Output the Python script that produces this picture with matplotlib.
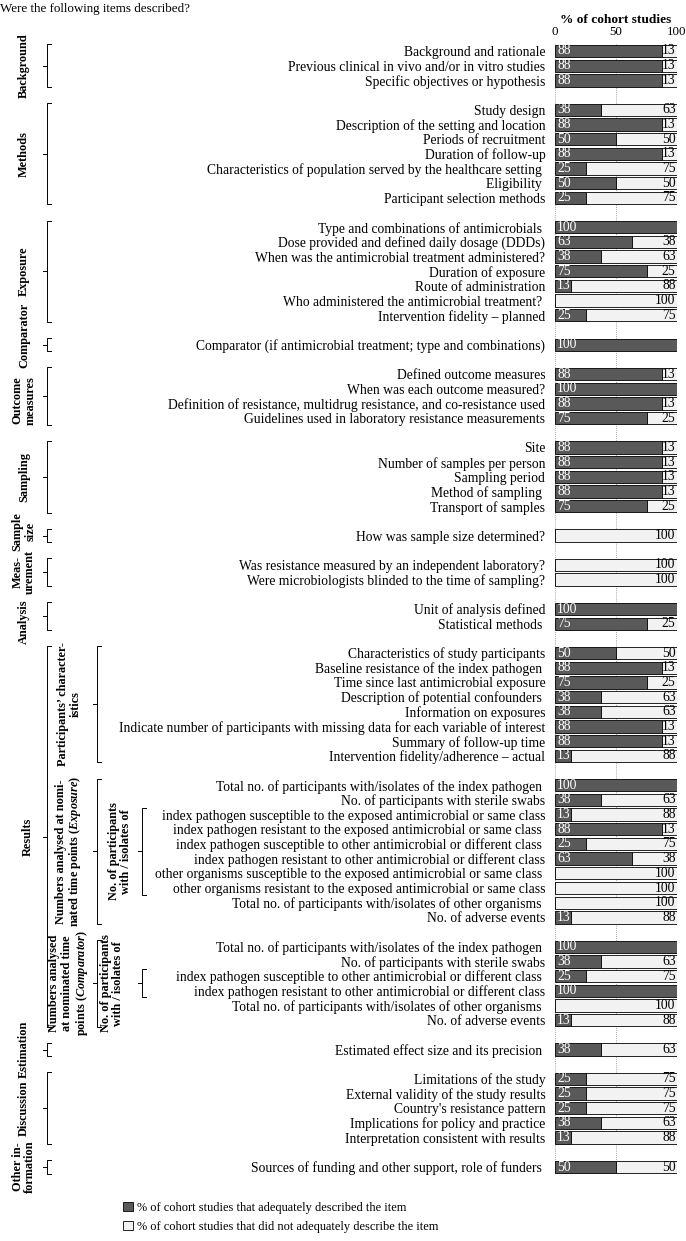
import numpy as np
import matplotlib.pyplot as plt
from matplotlib import transforms

plt.rcParams['font.family'] = ['Liberation Serif', 'DejaVu Serif']
plt.rcParams['mathtext.fontset'] = 'custom'
plt.rcParams['mathtext.rm'] = 'Liberation Serif:bold'
plt.rcParams['mathtext.it'] = 'Liberation Serif:italic:bold'
plt.rcParams['mathtext.bf'] = 'Liberation Serif:bold'

# ---- data -------------------------------------------------------------
items = [
    # Background
    "Background and rationale",
    "Previous clinical in vivo and/or in vitro studies",
    "Specific objectives or hypothesis",
    # Methods
    "Study design",
    "Description of the setting and location",
    "Periods of recruitment",
    "Duration of follow-up",
    "Characteristics of population served by the healthcare setting ",
    "Eligibility ",
    "Participant selection methods",
    # Exposure
    "Type and combinations of antimicrobials ",
    "Dose provided and defined daily dosage (DDDs)",
    "When was the antimicrobial treatment administered?",
    "Duration of exposure",
    "Route of administration",
    "Who administered the antimicrobial treatment? ",
    "Intervention fidelity \u2013 planned",
    # Comparator
    "Comparator (if antimicrobial treatment; type and combinations)",
    # Outcome measures
    "Defined outcome measures",
    "When was each outcome measured?",
    "Definition of resistance, multidrug resistance, and co-resistance used",
    "Guidelines used in laboratory resistance measurements",
    # Sampling
    "Site",
    "Number of samples per person",
    "Sampling period",
    "Method of sampling ",
    "Transport of samples",
    # Sample size
    "How was sample size determined?",
    # Measurement
    "Was resistance measured by an independent laboratory?",
    "Were microbiologists blinded to the time of sampling?",
    # Analysis
    "Unit of analysis defined",
    "Statistical methods ",
    # Participants' characteristics
    "Characteristics of study participants",
    "Baseline resistance of the index pathogen ",
    "Time since last antimicrobial exposure",
    "Description of potential confounders ",
    "Information on exposures",
    "Indicate number of participants with missing data for each variable of interest",
    "Summary of follow-up time",
    "Intervention fidelity/adherence \u2013 actual",
    # Numbers analysed (Exposure)
    "Total no. of participants with/isolates of the index pathogen ",
    "No. of participants with sterile swabs",
    "index pathogen susceptible to the exposed antimicrobial or same class",
    "index pathogen resistant to the exposed antimicrobial or same class ",
    "index pathogen susceptible to other antimicrobial or different class ",
    "index pathogen resistant to other antimicrobial or different class",
    "other organisms susceptible to the exposed antimicrobial or same class ",
    "other organisms resistant to the exposed antimicrobial or same class",
    "Total no. of participants with/isolates of other organisms ",
    "No. of adverse events",
    # Numbers analysed (Comparator)
    "Total no. of participants with/isolates of the index pathogen ",
    "No. of participants with sterile swabs",
    "index pathogen susceptible to other antimicrobial or different class ",
    "index pathogen resistant to other antimicrobial or different class",
    "Total no. of participants with/isolates of other organisms ",
    "No. of adverse events",
    # Estimation
    "Estimated effect size and its precision ",
    # Discussion
    "Limitations of the study",
    "External validity of the study results",
    "Country's resistance pattern",
    "Implications for policy and practice",
    "Interpretation consistent with results",
    # Other information
    "Sources of funding and other support, role of funders ",
]

adequate = [
    88, 88, 88,
    38, 88, 50, 88, 25, 50, 25,
    100, 63, 38, 75, 13, 0, 25,
    100,
    88, 100, 88, 75,
    88, 88, 88, 88, 75,
    0,
    0, 0,
    100, 75,
    50, 88, 75, 38, 38, 88, 88, 13,
    100, 38, 13, 88, 25, 63, 0, 0, 0, 13,
    100, 38, 25, 100, 0, 13,
    38,
    25, 25, 25, 38, 13,
    50,
]

not_adequate = [
    13, 13, 13,
    63, 13, 50, 13, 75, 50, 75,
    0, 38, 63, 25, 88, 100, 75,
    0,
    13, 0, 13, 25,
    13, 13, 13, 13, 25,
    100,
    100, 100,
    0, 25,
    50, 13, 25, 63, 63, 13, 13, 88,
    0, 63, 88, 13, 75, 38, 100, 100, 100, 88,
    0, 63, 75, 0, 100, 88,
    63,
    75, 75, 75, 63, 88,
    50,
]

# number of items in each block (blocks are separated by an empty row)
block_counts = [3, 7, 7, 1, 4, 5, 1, 2, 2, 8, 10, 6, 1, 5, 1]

main_groups = [
    ("Background", 0, 0), ("Methods", 1, 1), ("Exposure", 2, 2),
    ("Comparator", 3, 3), ("Outcome\nmeasures", 4, 4), ("Sampling", 5, 5),
    ("Sample\nsize", 6, 6), ("Meas-\nurement", 7, 7), ("Analysis", 8, 8),
    ("Results", 9, 11), ("Estimation", 12, 12), ("Discussion", 13, 13),
    ("Other in-\nformation", 14, 14),
]

sub_groups = [
    ("Participants\u2019 character-\nistics", 9),
    ("Numbers analysed at nomi-\nnated time points ($\\it{Exposure}$)", 10),
    ("Numbers analysed\nat nominated time\npoints ($\\it{Comparator}$)", 11),
]

# (block, first item, last item) for "No. of participants with / isolates of"
isolate_groups = [(10, 2, 7), (11, 2, 3)]

dark = "#595959"
light = "#f2f2f2"

# ---- row positions ----------------------------------------------------
block_rows = []
pos = 0
for n in block_counts:
    block_rows.append(list(range(pos, pos + n)))
    pos += n + 1
rows = np.array([r for b in block_rows for r in b])
last_row = rows[-1]

W, H = 686, 1241
fig = plt.figure(figsize=(W / 100, H / 100), dpi=100)
first_y, last_y = 51, 1167
pitch = (last_y - first_y) / last_row
ax_top = first_y - 0.5 * pitch
ax_bot = last_y + 0.5 * pitch
ax = fig.add_axes([555 / W, 1 - ax_bot / H, (677 - 555) / W, (ax_bot - ax_top) / H])

adequate = np.array(adequate)
not_adequate = np.array(not_adequate)

for x in (0, 50, 100):
    ax.axvline(x, color="#888888", ls=(0, (1, 1.5)), lw=0.6, zorder=0)

ax.barh(rows, adequate, height=0.84, color=dark, edgecolor="black", lw=0.6,
        label="% of cohort studies that adequately described the item", zorder=2)
ax.barh(rows, not_adequate, left=adequate, height=0.84, color=light,
        edgecolor="black", lw=0.6,
        label="% of cohort studies that did not adequately describe the item", zorder=2)

for r, a, na in zip(rows, adequate, not_adequate):
    if a > 0:
        ax.text(1.8, r, str(a), color="white", va="center", ha="left", fontsize=9.8, zorder=3)
    if na > 0:
        ax.text(98.8, r, str(na), color="black", va="center", ha="right", fontsize=9.8, zorder=3)

ax.set_xlim(0, 100)
ax.set_ylim(last_row + 0.5, -0.5)
ax.xaxis.tick_top()
ax.xaxis.set_label_position("top")
ax.set_xticks([0, 50, 100])
ax.set_xlabel("% of cohort studies", fontweight="bold", fontsize=9.6, labelpad=2)
ax.tick_params(axis="x", length=0, labelsize=9.4, pad=4)
ax.set_yticks(rows)
ax.set_yticklabels(items, fontsize=9.8)
ax.tick_params(axis="y", length=0, pad=7)
for s in ax.spines.values():
    s.set_visible(False)

# ---- group brackets ---------------------------------------------------
trans = transforms.blended_transform_factory(fig.transFigure, ax.transData)


def bracket(x_px, r0, r1, tick=4):
    x = x_px / W
    t = tick / W
    y0, y1 = r0 - 0.45, r1 + 0.45
    kw = dict(transform=trans, color="black", lw=0.7, clip_on=False)
    ax.plot([x + t, x, x, x + t], [y0, y0, y1, y1], **kw)
    ax.plot([x - t, x], [(y0 + y1) / 2] * 2, **kw)


def group_label(x_px, text, yc):
    ax.text(x_px / W, yc, text, transform=trans, rotation=90, ha="center",
            va="center", fontweight="bold", fontsize=8.8, linespacing=1.05,
            multialignment="center", clip_on=False)


label_shift = {"Comparator": -0.6, "Outcome\nmeasures": 0.3, "Analysis": 0.4,
               "Sample\nsize": -0.3}
for name, b0, b1 in main_groups:
    r0, r1 = block_rows[b0][0], block_rows[b1][-1]
    bracket(47, r0, r1)
    group_label(28 if name == "Results" else 24, name,
                (r0 + r1) / 2 + label_shift.get(name, 0))

for name, b in sub_groups:
    r0, r1 = block_rows[b][0], block_rows[b][-1]
    bracket(97, r0, r1)
    group_label(69, name, (r0 + r1) / 2)

for b, i0, i1 in isolate_groups:
    r0, r1 = block_rows[b][i0], block_rows[b][i1]
    bracket(142, r0, r1)
    group_label(120 if b == 10 else 112, "No. of participants\nwith / isolates of",
                (r0 + r1) / 2)

fig.text(0.0, 1 - 9 / H, "Were the following items described?", fontsize=9.4, va="center")

fig.legend(loc="upper left", bbox_to_anchor=(118 / W, 1 - 1197 / H), frameon=False,
           fontsize=8.9, handlelength=0.8, handleheight=0.8, handletextpad=0.3,
           labelspacing=0.55, borderaxespad=0)

fig.savefig("out.png", dpi=100)
